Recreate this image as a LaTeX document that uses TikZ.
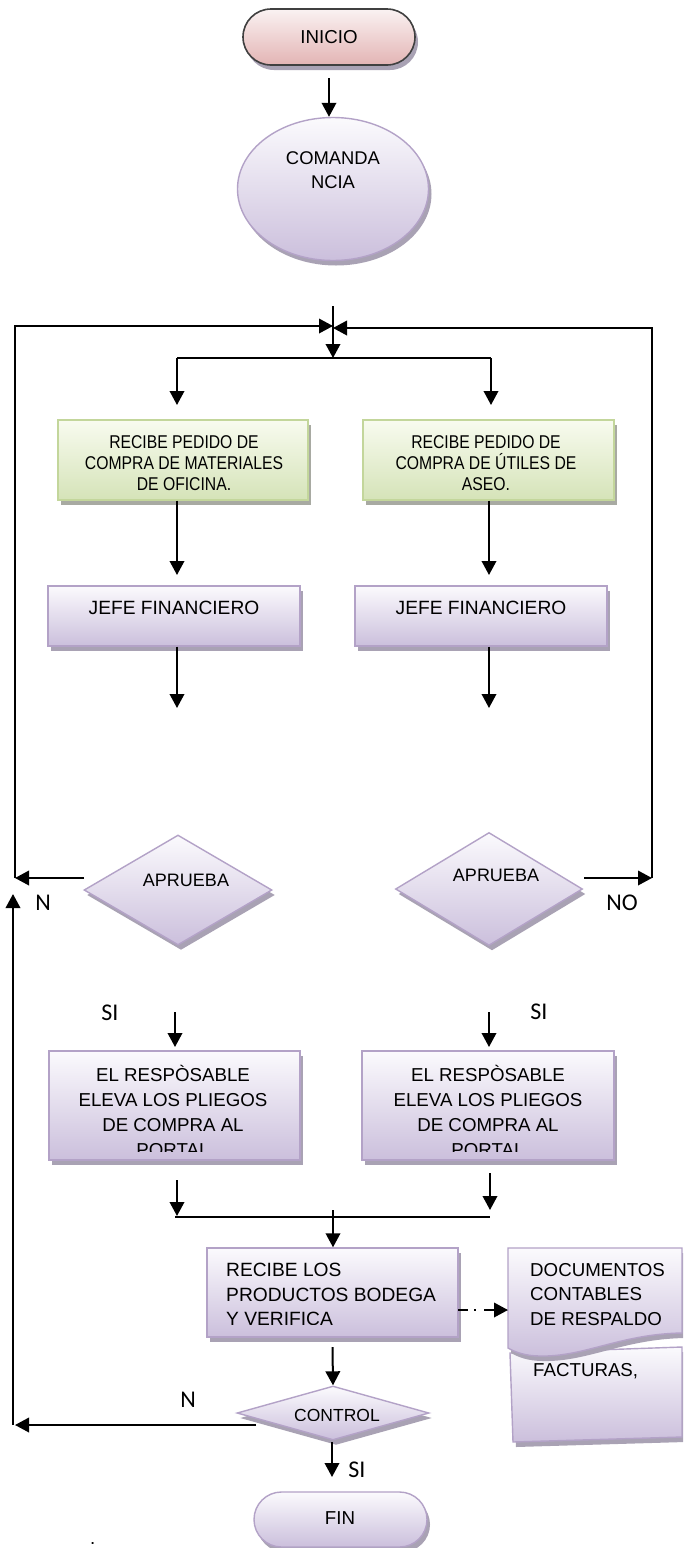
\documentclass[tikz,border=0pt]{standalone}
\usepackage{fontspec}
\setmainfont{Liberation Sans}
\newfontfamily\lblfont{Carlito}
\newfontfamily\narrowfont[FakeStretch=0.85]{Liberation Sans}
\usetikzlibrary{arrows.meta,shapes.geometric,shapes.misc,shadows}

\definecolor{lavtop}{HTML}{FBFAFD}
\definecolor{lavbot}{HTML}{CBBFDC}
\definecolor{lavline}{HTML}{B3A2C7}
\definecolor{grntop}{HTML}{F8FBEF}
\definecolor{grnbot}{HTML}{D5E3B8}
\definecolor{grnline}{HTML}{C3D69B}
\definecolor{pinktop}{HTML}{FAF2F2}
\definecolor{pinkbot}{HTML}{E3B4B4}
\definecolor{pinkline}{HTML}{404040}
\definecolor{shadelav}{HTML}{A9A2B4}
\definecolor{shadegrn}{HTML}{A8AAA2}

\tikzset{
  arr/.style={-{Triangle[length=14pt,width=14.5pt]}, line width=2pt},
  plain/.style={line width=2pt},
  shadowed/.style={drop shadow={shadow xshift=3pt, shadow yshift=-5pt, fill=#1, opacity=1}},
  lavfill/.style={draw=lavline, line width=1.4pt, top color=lavtop, bottom color=lavbot, shadowed=shadelav},
  grnfill/.style={draw=grnline, line width=1.4pt, top color=grntop, bottom color=grnbot, shadowed=shadegrn},
  pinkfill/.style={draw=pinkline, line width=1.6pt, top color=pinktop, bottom color=pinkbot, shadowed=shadelav},
  box/.style={rectangle, inner sep=0pt},
  txt/.style={font=\fontsize{18.7}{25}\selectfont, inner sep=0pt, align=center},
  gtxt/.style={font=\narrowfont\fontsize{18.5}{21}\selectfont, inner sep=0pt, align=center},
  lbl/.style={font=\lblfont\fontsize{24}{28}\selectfont, inner sep=0pt},
}

\begin{document}
\begin{tikzpicture}[x=1pt,y=-1pt]
\clip (0,0) rectangle (683,1548);
\fill[white] (0,0) rectangle (683,1548);

% start and command
\node[pinkfill, rounded rectangle, minimum width=172pt, minimum height=56pt, inner sep=0pt] (inicio) at (329,37) {};
\node[txt] (inicioT) at (329,37) {INICIO};
\node[lavfill, ellipse, minimum width=191pt, minimum height=143pt, inner sep=0pt] (coman) at (333,189) {};
\node[txt, font=\fontsize{18.4}{24}\selectfont] (comanT) at (333,170) {COMANDA\\NCIA};
\coordinate (a1s) at (329,78);
\draw[arr] (a1s) -- (a1s |- coman.north);

% merge point and branch
\coordinate (mtop) at (333,306);
\coordinate (crossL) at (333,326);
\coordinate (crossR) at (333,328);
\coordinate (mbr) at (333,358);
\coordinate (brL) at (177,358);
\coordinate (brR) at (491,358);
\coordinate (brLe) at (177,405);
\coordinate (brRe) at (491,405);
\draw[arr] (mtop) -- (mbr);
\draw[plain] (brL) -- (brR);
\draw[arr] (brL) -- (brLe);
\draw[arr] (brR) -- (brRe);

% purchase requests
\node[grnfill, box, minimum width=250pt, minimum height=80pt] (pedL) at (183,460) {};
\node[gtxt] (pedLT) at (184,463) {RECIBE PEDIDO DE\\COMPRA DE MATERIALES\\DE OFICINA.};
\node[grnfill, box, minimum width=251pt, minimum height=80pt] (pedR) at (488.5,460) {};
\node[gtxt] (pedRT) at (486,463) {RECIBE PEDIDO DE\\COMPRA DE ÚTILES DE\\ASEO.};

% financial chief
\node[lavfill, box, minimum width=252pt, minimum height=60pt] (jefeL) at (174,616) {};
\node[txt, font=\fontsize{19.2}{25}\selectfont] (jefeLT) at (174,608) {JEFE FINANCIERO};
\node[lavfill, box, minimum width=252pt, minimum height=60pt] (jefeR) at (481,616) {};
\node[txt, font=\fontsize{19.2}{25}\selectfont] (jefeRT) at (481,608) {JEFE FINANCIERO};
\coordinate (jLa) at (177,575);
\coordinate (jRa) at (489,575);
\draw[arr] (pedL.south -| jLa) -- (jLa);
\draw[arr] (pedR.south -| jRa) -- (jRa);
\coordinate (jLb) at (177,708);
\coordinate (jRb) at (489,708);
\draw[arr] (jefeL.south -| jLb) -- (jLb);
\draw[arr] (jefeR.south -| jRb) -- (jRb);

% approval decisions
\node[lavfill, diamond, minimum width=188pt, minimum height=110pt, inner sep=0pt] (apL) at (178,890) {};
\node[txt, font=\fontsize{18}{20}\selectfont] (apLT) at (186,880) {APRUEBA};
\node[lavfill, diamond, minimum width=187pt, minimum height=113pt, inner sep=0pt] (apR) at (489,889) {};
\node[txt, font=\fontsize{18}{20}\selectfont] (apRT) at (496,875) {APRUEBA};

% rejection loops
\coordinate (apLout) at (84,878);
\coordinate (loopL) at (15,878);
\coordinate (apRout) at (584,878);
\coordinate (loopR) at (652,878);
\draw[arr] (apLout) -- (loopL);
\draw[arr] (loopL) |- (crossL);
\draw[arr] (apRout) -- (loopR);
\draw[arr] (loopR) |- (crossR);
\node[lbl] (nL) at (43,903) {N};
\node[lbl] (noR) at (622,903) {NO};

% approval branch
\node[lbl] (siL) at (110,1013) {SI};
\node[lbl] (siR) at (539,1012) {SI};
\coordinate (sLs) at (175,1012);
\coordinate (sRs) at (489,1012);
\coordinate (sLe) at (175,1047);
\coordinate (sRe) at (489,1047);
\draw[arr] (sLs) -- (sLe);
\draw[arr] (sRs) -- (sRe);

\node[lavfill, box, minimum width=251pt, minimum height=109pt] (respL) at (174.5,1105.5) {};
\node[lavfill, box, minimum width=252pt, minimum height=109pt] (respR) at (488,1105.5) {};
\begin{scope}
  \clip (49,1052) rectangle (615,1151);
  \node[txt] (respLT) at (173,1110.5) {EL RESPÒSABLE\\ELEVA LOS PLIEGOS\\DE COMPRA AL\\PORTAL};
  \node[txt] (respRT) at (488,1110.5) {EL RESPÒSABLE\\ELEVA LOS PLIEGOS\\DE COMPRA AL\\PORTAL};
\end{scope}

% join towards the warehouse
\coordinate (jnL) at (177,1180);
\coordinate (jnLe) at (177,1216);
\coordinate (jnR) at (490,1173);
\coordinate (jnRe) at (490,1210);
\coordinate (hL) at (175,1217);
\coordinate (hR) at (490,1217);
\coordinate (cS) at (333,1210);
\draw[arr] (jnL) -- (jnLe);
\draw[arr] (jnR) -- (jnRe);
\draw[plain] (hL) -- (hR);

\node[lavfill, box, minimum width=251pt, minimum height=89pt] (recibe) at (332.5,1292.5) {};
\draw[arr] (cS) -- (cS |- recibe.north);
\begin{scope}
  \clip (207,1250) rectangle (458,1324);
  \node[txt, align=left, anchor=west, font=\fontsize{19.2}{24.5}\selectfont] (recibeT) at (226,1294.5) {RECIBE LOS\\PRODUCTOS BODEGA\\Y VERIFICA};
\end{scope}

% supporting documents
\path[lavfill] (510,1353) -- (682,1347) -- (682,1437) -- (513,1442) -- cycle;
\node[txt, anchor=west] (factT) at (533,1371) {FACTURAS,};
\path[lavfill] (508,1248) -- (682,1248) -- (682,1333)
  .. controls (620,1334) and (585,1357) .. (540,1356)
  .. controls (525,1356) and (515,1352) .. (508,1348) -- cycle;
\node[txt, align=left, anchor=west, font=\fontsize{18.7}{24.5}\selectfont] (docT) at (530,1294.5) {DOCUMENTOS\\CONTABLES\\DE RESPALDO};
\coordinate (dashS) at (458,1310);
\coordinate (dashE) at (508,1310);
\draw[arr, dash pattern=on 10pt off 6pt on 2pt off 8pt on 40pt] (dashS) -- (dashE);

% control decision
\node[lavfill, diamond, minimum width=192pt, minimum height=54pt, inner sep=0pt] (control) at (333,1413) {};
\draw[arr] (recibe.south |- 0,1347) -- (control.north);
\begin{scope}
  \clip (240,1400) rectangle (430,1420);
  \node[txt, font=\fontsize{17.5}{20}\selectfont] (controlT) at (337,1415.5) {CONTROL};
\end{scope}
\coordinate (cN) at (256,1425);
\coordinate (cNe) at (15,1425);
\coordinate (upE) at (13,894);
\draw[arr] (cN) -- (cNe);
\draw[arr] (13,1425) -- (upE);
\node[lbl] (nC) at (188,1400) {N};

% end
\node[lavfill, rounded rectangle, minimum width=173pt, minimum height=55pt, inner sep=0pt] (fin) at (340.5,1519.5) {};
\node[txt] (finT) at (340,1518) {FIN};
\coordinate (siS) at (332,1442);
\coordinate (siE) at (332,1477);
\draw[arr] (siS) -- (siE);
\node[lbl] (siC) at (357,1470) {SI};
\node[txt, anchor=base west] (dot) at (90,1544) {.};
\end{tikzpicture}
\end{document}
